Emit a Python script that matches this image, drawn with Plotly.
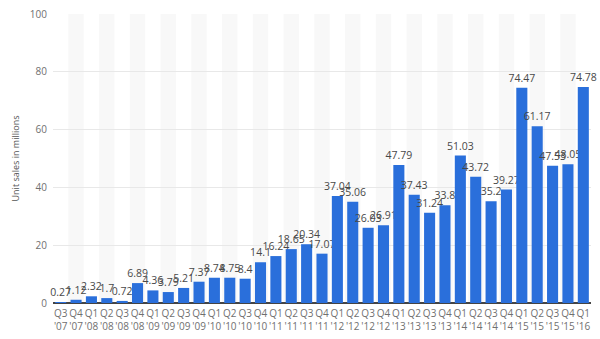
import plotly.graph_objects as go

quarters = ["Q3<br>'07", "Q4<br>'07", "Q1<br>'08", "Q2<br>'08", "Q3<br>'08", "Q4<br>'08",
            "Q1<br>'09", "Q2<br>'09", "Q3<br>'09", "Q4<br>'09", "Q1<br>'10", "Q2<br>'10",
            "Q3<br>'10", "Q4<br>'10", "Q1<br>'11", "Q2<br>'11", "Q3<br>'11", "Q4<br>'11",
            "Q1<br>'12", "Q2<br>'12", "Q3<br>'12", "Q4<br>'12", "Q1<br>'13", "Q2<br>'13",
            "Q3<br>'13", "Q4<br>'13", "Q1<br>'14", "Q2<br>'14", "Q3<br>'14", "Q4<br>'14",
            "Q1<br>'15", "Q2<br>'15", "Q3<br>'15", "Q4<br>'15", "Q1<br>'16"]
sales = [0.27, 1.12, 2.32, 1.7, 0.72, 6.89, 4.36, 3.79, 5.21, 7.37, 8.74, 8.75, 8.4,
         14.1, 16.24, 18.65, 20.34, 17.07, 37.04, 35.06, 26.03, 26.91, 47.79, 37.43,
         31.24, 33.8, 51.03, 43.72, 35.2, 39.27, 74.47, 61.17, 47.53, 48.05, 74.78]
y_ticks = [0, 20, 40, 60, 80, 100]

xs = list(range(len(quarters)))
font = "Open Sans"

fig = go.Figure()
fig.add_trace(go.Bar(
    x=xs, y=sales,
    marker=dict(color="#2a6fdb", line=dict(width=0)),
    text=[f"{v:g}" for v in sales],
    textposition="outside",
    textfont=dict(family=font, size=10.5, color="#484848"),
    constraintext="none",
    cliponaxis=False,
    width=0.72,
))

shapes = []
for i in xs:
    if i % 2 == 1:
        shapes.append(dict(type="rect", xref="x", yref="y", x0=i - 0.5, x1=i + 0.5,
                           y0=0, y1=y_ticks[-1], fillcolor="#f8f8f8", line=dict(width=0),
                           layer="below"))
fig.update_layout(
    shapes=shapes,
    width=600, height=339,
    margin=dict(l=53, r=9, t=14, b=36, autoexpand=False),
    paper_bgcolor="white", plot_bgcolor="white",
    showlegend=False,
    bargap=0.28,
    xaxis=dict(
        tickmode="array", tickvals=xs, ticktext=quarters,
        range=[-0.5, len(xs) - 0.5],
        tickangle=0, automargin=False, ticklabelstandoff=3,
        tickfont=dict(family=font, size=10, color="#707070"),
        showgrid=False, zeroline=False, ticks="", showline=False,
    ),
    yaxis=dict(
        range=[0, 100], tickvals=y_ticks, automargin=False, ticklabelstandoff=5,
        tickfont=dict(family=font, size=10, color="#707070"),
        gridcolor="#e8e8e8", gridwidth=1,
        zeroline=True, zerolinecolor="#444444", zerolinewidth=1.5,
        title=dict(text="Unit sales in millions", font=dict(family=font, size=9, color="#555555"), standoff=8),
        ticks="", showline=False,
    ),
)

fig.write_html("out.html")
